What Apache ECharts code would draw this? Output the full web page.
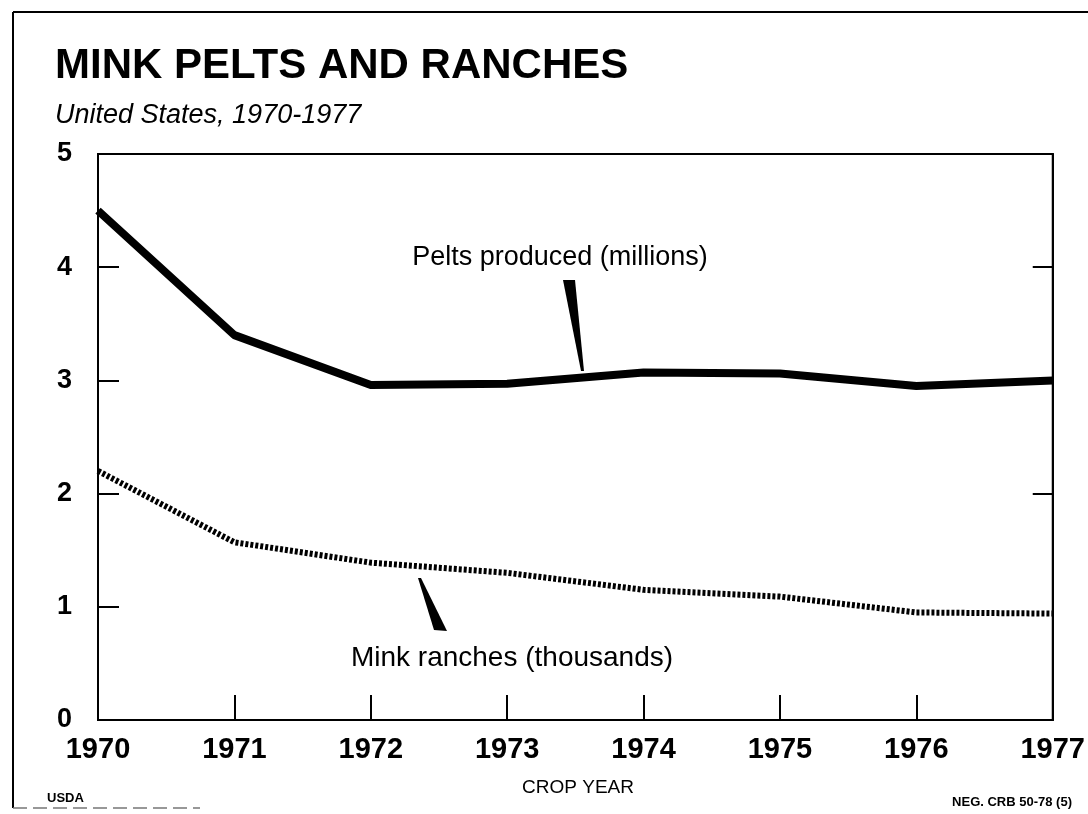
<!DOCTYPE html>
<html>
<head>
<meta charset="utf-8">
<script src="https://cdn.jsdelivr.net/npm/echarts@6/dist/echarts.min.js"></script>
<style>html,body{margin:0;padding:0;background:#fff;overflow:hidden;}#c{width:1088px;height:814px;}</style>
</head>
<body>
<div id="c"></div>
<script>
var years = [1970, 1971, 1972, 1973, 1974, 1975, 1976, 1977];
var pelts = [4.5, 3.4, 2.96, 2.97, 3.07, 3.06, 2.95, 3.0];      // millions
var ranches = [2.2, 1.57, 1.39, 1.3, 1.15, 1.09, 0.95, 0.94];  // thousands
var yTicks = [0, 1, 2, 3, 4, 5];

var SANS = '"Liberation Sans", Arial, Helvetica, sans-serif';

function pairs(vals) { return years.map(function (y, i) { return [y, vals[i]]; }); }

var chart = echarts.init(document.getElementById('c'), null, { renderer: 'canvas', width: 1088, height: 814 });
chart.setOption({
  backgroundColor: '#fff',
  animation: false,
  grid: { left: 98, right: 22, top: 154, bottom: 94, show: true, borderColor: '#000', borderWidth: 2, containLabel: false },
  xAxis: {
    type: 'value', min: 1970, max: 1977, interval: 1,
    axisLine: { show: true, lineStyle: { color: '#000', width: 2 } },
    axisTick: { show: true, inside: true, length: 25, lineStyle: { color: '#000', width: 2 } },
    splitLine: { show: false },
    axisLabel: { color: '#000', fontFamily: SANS, fontWeight: 'bold', fontSize: 29, margin: 15, formatter: function (v) { return String(v); } }
  },
  yAxis: [{
    type: 'value', min: 0, max: 5, interval: 1,
    axisLine: { show: true, lineStyle: { color: '#000', width: 2 } },
    axisTick: { show: true, inside: true, length: 21, lineStyle: { color: '#000', width: 2 } },
    splitLine: { show: false },
    axisLabel: { color: '#000', fontFamily: SANS, fontWeight: 'bold', fontSize: 27, margin: 26, formatter: function (v) { return yTicks.indexOf(v) >= 0 ? String(v) : ''; } }
  }, {
    type: 'value', min: 0, max: 5, interval: 1, position: 'right',
    axisLine: { show: true, lineStyle: { color: '#000', width: 2 } },
    axisTick: { show: true, inside: true, length: 20, customValues: [2, 3, 4], lineStyle: { color: '#000', width: 2 } },
    splitLine: { show: false },
    axisLabel: { show: false }
  }],
  series: [{
    type: 'line', name: 'Pelts produced (millions)', data: pairs(pelts),
    symbol: 'none', lineStyle: { color: '#000', width: 8, join: 'round' }, z: 3
  }, {
    type: 'line', name: 'Mink ranches (thousands)', data: pairs(ranches),
    symbol: 'none', lineStyle: { color: '#000', width: 6, type: [3, 2], cap: 'butt' }, z: 3
  }],
  graphic: [
    { type: 'line', shape: { x1: 13, y1: 12, x2: 13, y2: 808 }, style: { stroke: '#000', lineWidth: 2 } },
    { type: 'line', shape: { x1: 13, y1: 12, x2: 1088, y2: 12 }, style: { stroke: '#000', lineWidth: 2 } },
    { type: 'line', shape: { x1: 13, y1: 808, x2: 200, y2: 808 }, style: { stroke: '#777', lineWidth: 1.5, lineDash: [14, 6] } },
    { type: 'text', x: 55, y: 66, style: { text: 'MINK PELTS AND RANCHES', font: 'bold 42px ' + SANS, fill: '#000', textVerticalAlign: 'middle' } },
    { type: 'text', x: 55, y: 115, style: { text: 'United States, 1970-1977', font: 'italic 27px ' + SANS, fill: '#000', textVerticalAlign: 'middle' } },
    { type: 'text', x: 560, y: 258, style: { text: 'Pelts produced (millions)', font: '27px ' + SANS, fill: '#000', textAlign: 'center', textVerticalAlign: 'middle' } },
    { type: 'text', x: 512, y: 658, style: { text: 'Mink ranches (thousands)', font: '28px ' + SANS, fill: '#000', textAlign: 'center', textVerticalAlign: 'middle' } },
    { type: 'polygon', shape: { points: [[563, 280], [575, 280], [584, 371], [581, 371]] }, style: { fill: '#000' } },
    { type: 'polygon', shape: { points: [[418, 578], [421, 578], [447, 631], [434, 630]] }, style: { fill: '#000' } },
    { type: 'text', x: 578, y: 788, style: { text: 'CROP YEAR', font: '19px ' + SANS, fill: '#000', textAlign: 'center', textVerticalAlign: 'middle' } },
    { type: 'text', x: 47, y: 798, style: { text: 'USDA', font: 'bold 13px ' + SANS, fill: '#000', textVerticalAlign: 'middle' } },
    { type: 'text', x: 1072, y: 802, style: { text: 'NEG. CRB 50-78 (5)', font: 'bold 13px ' + SANS, fill: '#000', textAlign: 'right', textVerticalAlign: 'middle' } }
  ]
});
</script>
</body>
</html>
